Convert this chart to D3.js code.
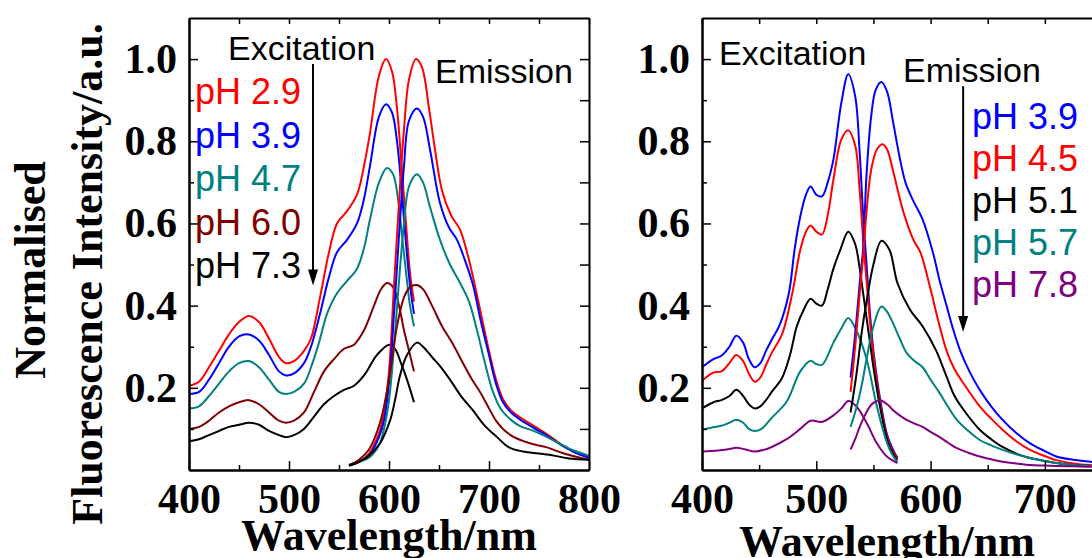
<!DOCTYPE html>
<html>
<head>
<meta charset="utf-8">
<script src="https://cdn.jsdelivr.net/npm/d3@7"></script>
<style>
  body { margin: 0; background: #fff; }
  svg { display: block; }
  .tick text { font-family: "Liberation Serif", "Times New Roman", serif; font-weight: bold; font-size: 42px; fill: #000; }
  .title { font-family: "Liberation Serif", "Times New Roman", serif; font-weight: bold; font-size: 44px; }
  .note { font-family: "Liberation Sans", Arial, sans-serif; font-size: 34px; }
  .leg { font-family: "Liberation Sans", Arial, sans-serif; font-size: 36px; }
</style>
</head>
<body>
<svg width="1092" height="558"></svg>
<script>
// ---- left panel: excitation / emission at different pH ----
var exL29 = [[400,.205],[410,.215],[420,.25],[430,.29],[440,.33],[450,.36],[460,.375],[470,.36],[480,.32],[490,.275],[497,.26],[505,.265],[515,.29],[522,.32],[531,.42],[540,.53],[548,.60],[558,.63],[568,.67],[575,.74],[581,.82],[590,.96],[597,1.0],[603,.97],[608,.88],[612,.76],[617,.60],[621,.48],[625,.41]];
var exL39 = [[400,.185],[410,.19],[420,.22],[430,.26],[440,.30],[450,.325],[460,.33],[470,.315],[480,.28],[490,.24],[497,.23],[505,.235],[515,.26],[522,.30],[531,.38],[540,.47],[548,.53],[558,.56],[568,.60],[575,.66],[581,.74],[590,.86],[597,.89],[603,.87],[608,.80],[612,.70],[617,.55],[621,.45],[625,.38]];
var exL47 = [[400,.15],[410,.155],[420,.18],[430,.21],[440,.24],[450,.26],[460,.265],[470,.25],[480,.22],[490,.19],[497,.185],[505,.19],[515,.21],[522,.25],[530,.31],[538,.38],[548,.43],[558,.46],[568,.49],[575,.54],[581,.61],[590,.70],[598,.735],[604,.72],[609,.66],[613,.57],[618,.46],[621,.40],[625,.35]];
var exL60 = [[400,.10],[410,.105],[420,.12],[430,.14],[440,.155],[450,.165],[460,.17],[470,.16],[480,.14],[490,.12],[497,.115],[505,.12],[515,.14],[525,.19],[535,.24],[545,.27],[555,.295],[565,.305],[575,.34],[585,.40],[592,.44],[598,.455],[604,.445],[610,.40],[615,.34],[620,.29],[625,.24]];
var exL73 = [[400,.07],[410,.075],[420,.085],[430,.095],[440,.105],[450,.11],[460,.115],[470,.11],[480,.095],[490,.085],[497,.08],[505,.085],[515,.10],[525,.13],[535,.16],[545,.18],[555,.195],[565,.205],[575,.23],[588,.28],[600,.305],[606,.295],[612,.26],[618,.22],[625,.165]];

var emL29 = [[560,.012],[570,.02],[580,.04],[590,.09],[595,.14],[600,.24],[605,.45],[610,.65],[615,.83],[620,.95],[627,1.0],[633,.98],[640,.88],[646,.78],[653,.68],[662,.62],[671,.585],[678,.53],[684,.47],[692,.38],[700,.29],[707,.22],[714,.172],[722,.145],[731,.128],[745,.107],[758,.087],[770,.066],[784,.045],[800,.03]];
var emL39 = [[560,.012],[570,.02],[580,.035],[590,.08],[595,.12],[600,.21],[605,.38],[610,.57],[615,.74],[620,.85],[628,.88],[634,.86],[641,.78],[651,.65],[660,.59],[668,.56],[676,.51],[684,.45],[692,.36],[700,.28],[707,.21],[714,.165],[722,.14],[731,.123],[745,.102],[758,.084],[770,.064],[784,.045],[800,.03]];
var emL47 = [[560,.012],[570,.02],[580,.03],[590,.06],[595,.10],[600,.17],[605,.30],[610,.46],[615,.60],[620,.69],[628,.72],[634,.70],[641,.64],[651,.56],[661,.50],[670,.46],[680,.41],[688,.34],[696,.26],[704,.19],[712,.148],[722,.122],[731,.107],[745,.095],[758,.08],[770,.065],[784,.048],[800,.035]];
var emL60 = [[560,.012],[570,.025],[580,.05],[591,.115],[600,.22],[608,.35],[615,.42],[621,.445],[628,.45],[634,.44],[643,.40],[653,.35],[663,.31],[674,.26],[683,.22],[691,.19],[700,.15],[707,.12],[714,.10],[725,.08],[741,.065],[758,.055],[775,.04],[791,.03],[800,.025]];
var emL73 = [[560,.01],[570,.02],[580,.035],[591,.065],[601,.12],[606,.17],[611,.23],[618,.28],[628,.31],[634,.30],[643,.275],[652,.25],[661,.22],[672,.18],[684,.145],[695,.11],[708,.08],[720,.055],[734,.045],[750,.04],[765,.035],[780,.028],[800,.025]];

// ---- right panel ----
var exR39 = [[400,.25],[410,.27],[417,.278],[424,.30],[430,.327],[436,.31],[441,.27],[446,.25],[451,.26],[456,.29],[461,.317],[468,.353],[476,.43],[481,.536],[486,.617],[491,.67],[495,.69],[500,.67],[505,.666],[510,.70],[515,.756],[522,.895],[528,.963],[534,.91],[538,.77],[541,.62],[544,.50],[547,.38],[550,.29],[556,.17],[562,.085],[567,.05],[571,.03]];
var exR45 = [[400,.217],[410,.237],[417,.24],[424,.26],[430,.28],[436,.265],[441,.235],[446,.215],[451,.225],[456,.255],[461,.285],[470,.33],[479,.43],[486,.536],[491,.58],[495,.595],[500,.58],[505,.573],[510,.62],[515,.707],[522,.805],[528,.827],[534,.79],[538,.68],[541,.56],[544,.46],[547,.36],[550,.28],[556,.16],[562,.08],[567,.045],[571,.03]];
var exR51 = [[400,.15],[410,.165],[417,.17],[424,.18],[430,.195],[436,.18],[441,.16],[446,.15],[451,.155],[456,.17],[461,.19],[470,.224],[477,.28],[483,.35],[489,.39],[495,.417],[500,.405],[505,.40],[510,.44],[515,.49],[521,.536],[528,.58],[534,.55],[538,.49],[541,.43],[544,.37],[547,.31],[550,.25],[556,.15],[562,.075],[567,.04],[571,.025]];
var exR57 = [[400,.098],[408,.103],[416,.107],[424,.115],[430,.122],[436,.115],[441,.10],[446,.095],[452,.10],[461,.127],[474,.166],[486,.24],[495,.266],[500,.258],[505,.256],[515,.31],[522,.345],[528,.37],[535,.34],[544,.27],[553,.155],[562,.065],[567,.035],[571,.02]];
var exR78 = [[400,.045],[408,.046],[416,.048],[424,.051],[430,.054],[438,.05],[446,.045],[454,.049],[461,.056],[474,.075],[486,.10],[495,.12],[505,.117],[515,.133],[522,.15],[528,.168],[535,.155],[544,.115],[553,.065],[562,.032],[571,.017]];

var emR39 = [[530,.225],[534,.33],[538,.455],[541,.54],[544,.72],[548,.86],[552,.925],[557,.944],[562,.92],[567,.85],[573,.76],[578,.70],[584,.66],[593,.61],[602,.53],[608,.46],[614,.40],[620,.34],[626,.29],[634,.24],[643,.195],[653,.155],[663,.122],[675,.09],[687,.065],[700,.046],[710,.033],[725,.025],[740,.02],[750,.018]];
var emR45 = [[530,.19],[534,.30],[538,.43],[541,.52],[544,.63],[548,.73],[553,.78],[558,.793],[562,.78],[567,.73],[576,.63],[585,.56],[591,.53],[600,.44],[607,.36],[614,.29],[621,.245],[629,.21],[643,.155],[653,.125],[663,.098],[675,.07],[687,.049],[700,.034],[710,.024],[725,.016],[740,.012],[750,.011]];
var emR51 = [[530,.14],[535,.23],[540,.34],[544,.41],[550,.50],[557,.558],[564,.536],[571,.455],[582,.39],[593,.35],[605,.29],[614,.227],[621,.18],[629,.146],[643,.098],[653,.075],[663,.056],[675,.04],[687,.029],[700,.022],[710,.017],[725,.012],[740,.01],[750,.009]];
var emR57 = [[530,.105],[535,.15],[540,.21],[544,.27],[550,.35],[557,.398],[562,.385],[567,.358],[573,.32],[579,.285],[586,.265],[593,.25],[600,.22],[608,.187],[615,.155],[623,.122],[633,.095],[643,.073],[653,.06],[663,.049],[675,.038],[687,.029],[700,.022],[710,.017],[725,.012],[740,.01],[750,.009]];
var emR78 = [[530,.05],[534,.075],[538,.105],[542,.13],[547,.155],[551,.165],[556,.17],[560,.164],[564,.155],[567,.146],[573,.133],[579,.122],[586,.113],[593,.105],[600,.093],[608,.08],[615,.067],[623,.053],[633,.042],[643,.033],[653,.026],[663,.02],[675,.016],[687,.012],[700,.011],[710,.01],[725,.009],[740,.008],[750,.008]];

var labelsL = ["pH 2.9", "pH 3.9", "pH 4.7", "pH 6.0", "pH 7.3"];
var labelsR = ["pH 3.9", "pH 4.5", "pH 5.1", "pH 5.7", "pH 7.8"];
var colorsL = ["#ff0000", "#0000ff", "#008080", "#800000", "#000000"];
var colorsR = ["#0000ff", "#ff0000", "#000000", "#008080", "#800080"];

var yMajor = [0.2, 0.4, 0.6, 0.8, 1.0];
var yMinor = [0.1, 0.3, 0.5, 0.7, 0.9];

var svg = d3.select("svg");
var plotTop = 18, plotBottom = 470;

var y = d3.scaleLinear().domain([0, 1.1]).range([plotBottom, plotTop]);

function drawPanel(x, xMajor, xMinor, exSets, emSets, colors){
    var g = svg.append("g");

    // curves
    var line = d3.line()
        .curve(d3.curveCatmullRom.alpha(0.5))
        .x(d => x(d[0]))
        .y(d => y(d[1]));
    exSets.concat(emSets).forEach(function(s, i){
        g.append("path")
            .attr("d", line(s))
            .attr("fill", "none")
            .attr("stroke", colors[i % colors.length])
            .attr("stroke-width", 2);
    });

    var x0 = x.range()[0], x1 = x.range()[1];

    // bottom axis
    g.append("g").attr("transform", "translate(0," + plotBottom + ")")
        .call(d3.axisBottom(x).tickValues(xMajor).tickSize(-9).tickSizeOuter(0).tickPadding(13).tickFormat(d3.format("d")));
    g.append("g").attr("transform", "translate(0," + plotBottom + ")")
        .call(d3.axisBottom(x).tickValues(xMinor).tickSize(-5).tickSizeOuter(0).tickFormat(""));
    // top axis
    g.append("g").attr("transform", "translate(0," + plotTop + ")")
        .call(d3.axisTop(x).tickValues(xMajor.concat(xMinor)).tickSize(-6).tickSizeOuter(0).tickFormat(""));
    // left axis
    g.append("g").attr("transform", "translate(" + x0 + ",0)")
        .call(d3.axisLeft(y).tickValues(yMajor).tickSize(-9).tickSizeOuter(0).tickPadding(12).tickFormat(d3.format(".1f")));
    g.append("g").attr("transform", "translate(" + x0 + ",0)")
        .call(d3.axisLeft(y).tickValues(yMinor).tickSize(-5).tickSizeOuter(0).tickFormat(""));
    // right axis
    g.append("g").attr("transform", "translate(" + x1 + ",0)")
        .call(d3.axisRight(y).tickValues(yMajor.concat(yMinor)).tickSize(-9).tickSizeOuter(0).tickFormat(""));

    g.selectAll(".domain").attr("stroke", "#000").attr("stroke-width", 2);
    g.selectAll(".tick line").attr("stroke", "#000").attr("stroke-width", 1.5);
    return g;
}

// left panel
var xL = d3.scaleLinear().domain([400, 800]).range([189, 589]);
drawPanel(xL, [400, 500, 600, 700, 800], [450, 550, 650, 750],
    [exL29, exL39, exL47, exL60, exL73], [emL29, emL39, emL47, emL60, emL73], colorsL);

// right panel (cut at the window edge)
var xR = d3.scaleLinear().domain([400, 750]).range([702, 1102]);
drawPanel(xR, [400, 500, 600, 700], [450, 550, 650, 750],
    [exR39, exR45, exR51, exR57, exR78], [emR39, emR45, emR51, emR57, emR78], colorsR);

// axis titles
svg.append("text").attr("class", "title").attr("text-anchor", "middle")
    .attr("x", 389).attr("y", 550).text("Wavelength/nm");
svg.append("text").attr("class", "title").attr("text-anchor", "middle")
    .attr("x", 887).attr("y", 556).text("Wavelength/nm");
svg.append("text").attr("class", "title").attr("text-anchor", "middle")
    .attr("transform", "translate(45,270) rotate(-90)").text("Normalised");
svg.append("text").attr("class", "title").attr("text-anchor", "middle")
    .attr("transform", "translate(102,274) rotate(-90)").text("Fluorescence Intensity/a.u.");

// annotations
function note(x, yy, txt){
    svg.append("text").attr("class", "note").attr("x", x).attr("y", yy).text(txt);
}
note(228, 60, "Excitation");
note(435, 83, "Emission");
note(719, 65, "Excitation");
note(903, 82, "Emission");

function arrow(x, y0, y1){
    svg.append("line").attr("x1", x).attr("x2", x).attr("y1", y0).attr("y2", y1 - 14)
        .attr("stroke", "#000").attr("stroke-width", 2);
    svg.append("path")
        .attr("d", "M" + (x - 5) + "," + (y1 - 16) + "L" + (x + 5) + "," + (y1 - 16) + "L" + x + "," + y1 + "Z")
        .attr("fill", "#000");
}
arrow(xL(524), y(0.988), y(0.449));
arrow(xR(628.5), y(0.934), y(0.336));

labelsL.forEach(function(t, i){
    svg.append("text").attr("class", "leg").attr("x", 195).attr("y", 104 + i * 43.5)
        .attr("fill", colorsL[i]).text(t);
});
labelsR.forEach(function(t, i){
    svg.append("text").attr("class", "leg").attr("x", 972).attr("y", 129 + i * 42)
        .attr("fill", colorsR[i]).text(t);
});
</script>
</body>
</html>
